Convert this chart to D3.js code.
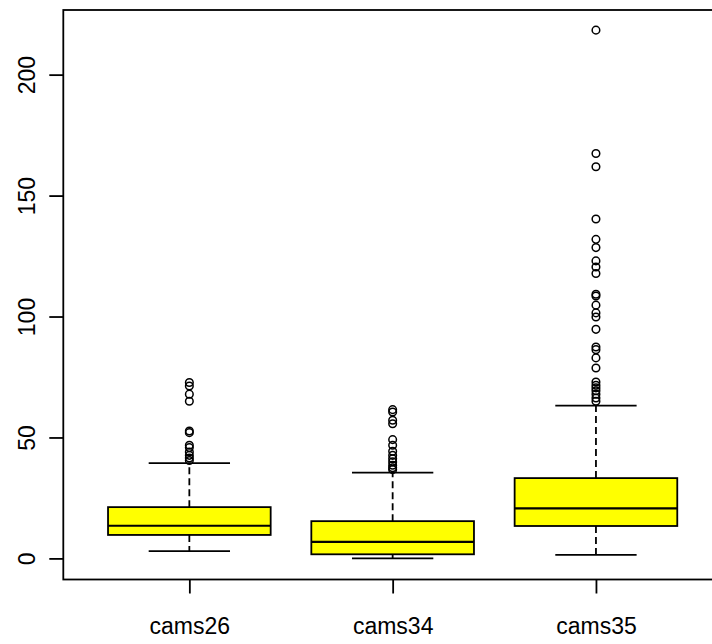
<!DOCTYPE html>
<html>
<head>
<meta charset="utf-8">
<script src="https://cdn.jsdelivr.net/npm/d3@7"></script>
<style>
	body { margin: 0; background: #fff; }
	svg { display: block; font-family: "Liberation Sans", Arial, sans-serif; }
</style>
</head>
<body>
<script>
// data
const categories = ["cams26", "cams34", "cams35"];
const whiskerLow = [3.0, 0, 1.5];
const q1 = [9.7, 1.7, 13.4];
const medians = [13.5, 6.8, 20.7];
const q3 = [21.2, 15.4, 33.2];
const whiskerHigh = [39.4, 35.5, 63.2];
const outliers26 = [72.7, 71.3, 67.9, 65, 52.7, 52, 46.8, 45.8, 44, 42.6, 41.5, 40.5];
const outliers34 = [61.5, 60.5, 57.1, 55.7, 49.1, 46.8, 44.3, 42.6, 41.2, 39.9, 38.5, 37.5, 36.7];
const outliers35 = [218.4, 167.4, 161.9, 140.3, 131.9, 128.5, 123, 120.5, 117.8, 109.2, 108.5,
	104.7, 101.5, 99.8, 94.7, 87.4, 86.3, 82.9, 78.7, 72.9, 71.6, 70.5, 69.3, 67.9, 66.3, 65];
const yTicks = [0, 50, 100, 150, 200];

const w = 712;
const h = 644;
const padLeft = 63.3, padTop = 10, padRight = 722, padBottom = 579.5;

const boxes = categories.map((c, i) => ({
	name: c,
	pos: i + 1,
	lo: whiskerLow[i],
	q1: q1[i],
	med: medians[i],
	q3: q3[i],
	hi: whiskerHigh[i],
	out: [outliers26, outliers34, outliers35][i],
}));

const svg = d3.select("body").append("svg").attr("width", w).attr("height", h);

// * SCALES
const xScale = d3.scaleLinear().domain([0.38, 3.62]).range([padLeft, padRight]);
const yScale = d3.scaleLinear().domain([-8.72, 226.72]).range([padBottom, padTop]);

const g = svg.selectAll("g.box").data(boxes).enter().append("g").attr("class", "box");

// whiskers (dashed)
g.append("line")
	.attr("x1", (d) => xScale(d.pos))
	.attr("x2", (d) => xScale(d.pos))
	.attr("y1", (d) => yScale(d.q3))
	.attr("y2", (d) => yScale(d.hi))
	.attr("stroke", "#000").attr("stroke-width", 1.8).attr("stroke-dasharray", "7,4");
g.append("line")
	.attr("x1", (d) => xScale(d.pos))
	.attr("x2", (d) => xScale(d.pos))
	.attr("y1", (d) => yScale(d.q1))
	.attr("y2", (d) => yScale(d.lo))
	.attr("stroke", "#000").attr("stroke-width", 1.8).attr("stroke-dasharray", "7,4");
// staples
["lo", "hi"].forEach((k) => {
	g.append("line")
		.attr("x1", (d) => xScale(d.pos - 0.2))
		.attr("x2", (d) => xScale(d.pos + 0.2))
		.attr("y1", (d) => yScale(d[k]))
		.attr("y2", (d) => yScale(d[k]))
		.attr("stroke", "#000").attr("stroke-width", 1.8);
});
// box
g.append("rect")
	.attr("x", (d) => xScale(d.pos - 0.4))
	.attr("width", (d) => xScale(d.pos + 0.4) - xScale(d.pos - 0.4))
	.attr("y", (d) => yScale(d.q3))
	.attr("height", (d) => yScale(d.q1) - yScale(d.q3))
	.attr("fill", "#ffff00").attr("stroke", "#000").attr("stroke-width", 1.8);
// median
g.append("line")
	.attr("x1", (d) => xScale(d.pos - 0.4))
	.attr("x2", (d) => xScale(d.pos + 0.4))
	.attr("y1", (d) => yScale(d.med))
	.attr("y2", (d) => yScale(d.med))
	.attr("stroke", "#000").attr("stroke-width", 2.2);
// outliers
g.selectAll("circle")
	.data((d) => d.out.map((v) => ({ pos: d.pos, v: v })))
	.enter()
	.append("circle")
	.attr("cx", (d) => xScale(d.pos))
	.attr("cy", (d) => yScale(d.v))
	.attr("r", 3.8)
	.attr("fill", "none").attr("stroke", "#000").attr("stroke-width", 1.5);

// * FRAME
svg.append("rect")
	.attr("x", padLeft).attr("y", padTop)
	.attr("width", padRight - padLeft).attr("height", padBottom - padTop)
	.attr("fill", "none").attr("stroke", "#000").attr("stroke-width", 1.8);

// * AXES
const yAxis = d3.axisLeft(yScale).tickValues(yTicks).tickSize(14).tickSizeOuter(0);
const yG = svg.append("g").attr("transform", "translate(" + padLeft + ",0)").call(yAxis);
yG.select(".domain").remove();
yG.selectAll("line").attr("stroke", "#000").attr("stroke-width", 1.8);
yG.selectAll("text")
	.attr("x", null).attr("dy", null)
	.attr("transform", "translate(-28,0) rotate(-90)")
	.attr("text-anchor", "middle")
	.attr("font-size", 23).attr("fill", "#000");

const xAxis = d3.axisBottom(xScale).tickValues([1, 2, 3]).tickSize(14)
	.tickFormat((d) => categories[d - 1]);
const xG = svg.append("g").attr("transform", "translate(0," + padBottom + ")").call(xAxis);
xG.select(".domain").remove();
xG.selectAll("line").attr("stroke", "#000").attr("stroke-width", 1.8);
xG.selectAll("text")
	.attr("y", 54).attr("dy", null)
	.attr("font-size", 23).attr("fill", "#000");
</script>
</body>
</html>
